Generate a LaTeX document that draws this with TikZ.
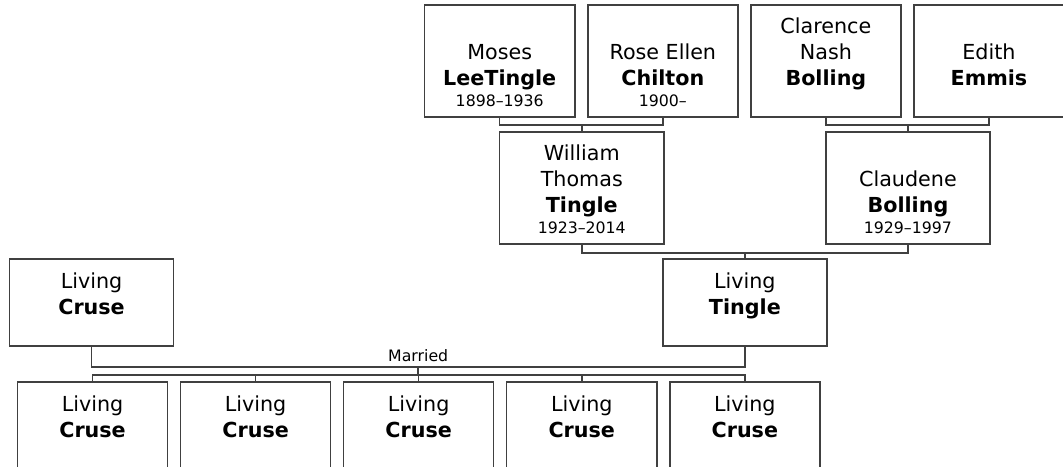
\documentclass[tikz,border=0pt]{standalone}
\usepackage{fontspec}
\setmainfont{DejaVu Sans}
\definecolor{linegray}{RGB}{64,64,64}
\newcommand{\namefont}{\fontsize{15.5pt}{19.5pt}\selectfont}
\newcommand{\datefont}{\fontsize{11.8pt}{14pt}\selectfont}
\newcommand{\card}[3]{\parbox[b]{110pt}{\centering #1\\\textbf{#2}\\[-3.75pt]{\datefont\strut #3}}}

\begin{document}
\begin{tikzpicture}[x=0.75pt,y=-0.75pt,font=\namefont,person/.style={draw=linegray,line width=1.1pt,inner sep=0pt,minimum width=112.5pt,text height=76.1pt,text depth=7.9pt},parent/.style={person,minimum width=123pt},living/.style={person,text height=57.35pt},link/.style={draw=linegray,line width=1.1pt},wedlabel/.style={font=\datefont,inner sep=3pt}]
\useasboundingbox (-0.5,0) rectangle (1062,466);
\node[person] (moses) at (499,61){\card{Moses}{LeeTingle}{1898–1936}};
\node[person] (rose) at (662,61){\card{Rose Ellen}{Chilton}{1900–}};
\node[person] (clarence) at (825,61){\card{Clarence\\Nash}{Bolling}{}};
\node[person] (edith) at (988,61){\card{Edith}{Emmis}{}};
\node[parent] (william) at (581,188){\card{William\\Thomas}{Tingle}{1923–2014}};
\node[parent] (claudene) at (907,188){\card{Claudene}{Bolling}{1929–1997}};
\node[living,minimum width=123pt] (cruse) at (91,302.5){\card{Living}{Cruse}{}};
\node[living,minimum width=123pt] (tingle) at (744,302.5){\card{Living}{Tingle}{}};
\foreach \k/\x in {1/92,2/255,3/418,4/581,5/744}
  \node[living] (child\k) at (\x,425.5){\card{Living}{Cruse}{}};
% parents to children
\draw[link] (moses.south) -- ++(0,7) coordinate (mr) -| (rose.south);\draw[link] (mr -| william.north) -- (william.north);
\draw[link] (clarence.south) -- ++(0,7) coordinate (ce) -| (edith.south);\draw[link] (ce -| claudene.north) -- (claudene.north);
\draw[link] (william.south) -- ++(0,8) coordinate (wc) -| (claudene.south);\draw[link] (wc -| tingle.north) -- (tingle.north);
\draw[link] (cruse.south) -- ++(0,20) coordinate (wedl) -- node[above,wedlabel] (married) {Married} coordinate[midway] (wed) (wedl -| tingle.south) -- (tingle.south);
\draw[link] (wed) -- ++(0,8) coordinate (kids);
\draw[link] (child1.north) -- (child1.north |- kids) -- (child5.north |- kids) -- (child5.north);
\foreach \k in {2,3,4} \draw[link] (child\k.north) -- (child\k.north |- kids);
\end{tikzpicture}
\end{document}
